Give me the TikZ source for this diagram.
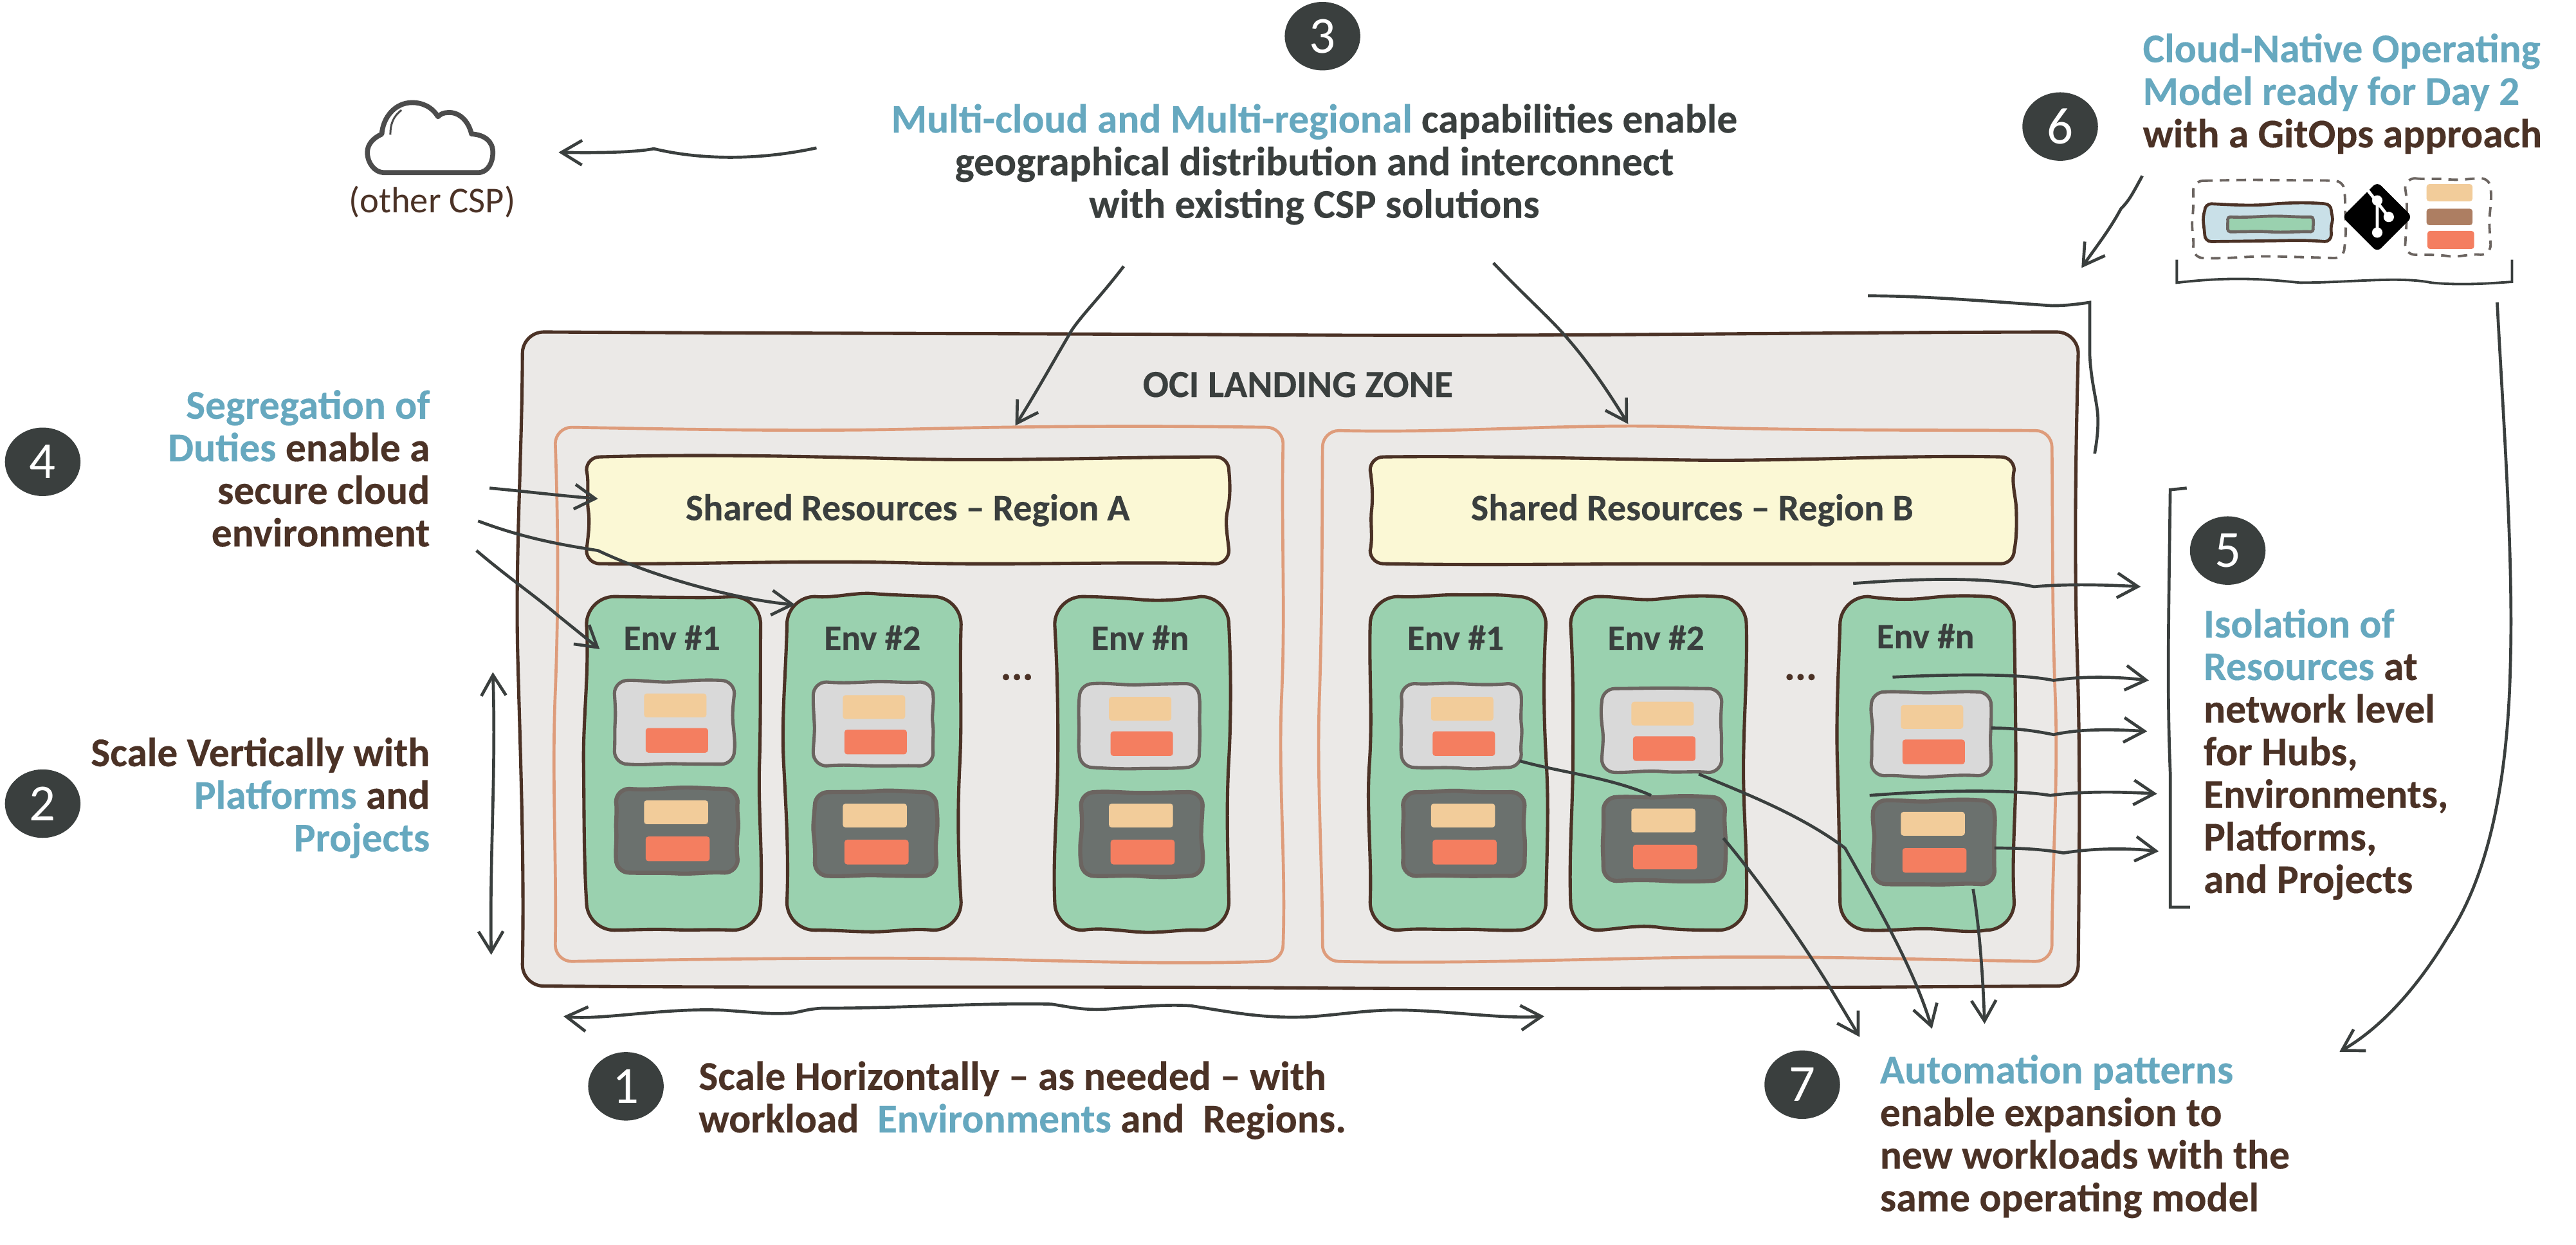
\documentclass[tikz,border=0pt]{standalone}
\usepackage{fontspec}
\setmainfont{Carlito}[BoldFeatures={FakeBold=0.25}]
\usetikzlibrary{arrows.meta,shapes.geometric}
\definecolor{ink}{HTML}{3A3F3E}
\definecolor{brn}{HTML}{4B3226}
\definecolor{tealc}{HTML}{66A8BF}
\definecolor{outerf}{HTML}{EBE9E7}
\definecolor{regc}{HTML}{DE9C7B}
\definecolor{shf}{HTML}{FBF8D5}
\definecolor{grn}{HTML}{9AD1AF}
\definecolor{lgf}{HTML}{D9D9D9}
\definecolor{bxl}{HTML}{6B6460}
\definecolor{dkf}{HTML}{6B716E}
\definecolor{sand}{HTML}{F2CC9A}
\definecolor{salm}{HTML}{F47E60}
\definecolor{tanc}{HTML}{AD7E62}
\definecolor{blf}{HTML}{C9E0E8}
\newcommand\hl[1]{\textcolor{tealc}{#1}}
\newcommand\skr[1]{\pgfmathsetmacro#1{\skW*rand}}
% name, x0, y0, x1, y1, corner radius, wobble, path style, text
\newcommand\skbox[9]{%
  \pgfmathsetmacro\skXa{#2}\pgfmathsetmacro\skYa{#3}\pgfmathsetmacro\skXb{#4}\pgfmathsetmacro\skYb{#5}%
  \def\skR{#6}\def\skW{#7}%
  \pgfmathsetmacro\skXm{(\skXa+\skXb)/2}\pgfmathsetmacro\skYm{(\skYa+\skYb)/2}%
  \pgfmathsetmacro\skDx{(\skXb-\skXa-2*\skR)/6}\pgfmathsetmacro\skDy{(\skYb-\skYa-2*\skR)/6}%
  \pgfmathsetmacro\skK{0.45*\skR}%
  \skr\skA\skr\skB\skr\skC\skr\skD\skr\skE\skr\skF\skr\skG\skr\skH
  \skr\skI\skr\skJ\skr\skL\skr\skM\skr\skN\skr\skO\skr\skP\skr\skQ
  \path[#8] ({\skXa+\skR},\skYa)
   .. controls ({\skXa+\skR+\skDx},{\skYa+\skA}) and ({\skXm-\skDx},{\skYa+\skB-\skC}) .. (\skXm,{\skYa+\skB})
   .. controls ({\skXm+\skDx},{\skYa+\skB+\skC}) and ({\skXb-\skR-\skDx},{\skYa+\skD}) .. ({\skXb-\skR},\skYa)
   .. controls ({\skXb-\skK},\skYa) and (\skXb,{\skYa+\skK}) .. (\skXb,{\skYa+\skR})
   .. controls ({\skXb+\skE},{\skYa+\skR+\skDy}) and ({\skXb+\skF-\skG},{\skYm-\skDy}) .. ({\skXb+\skF},\skYm)
   .. controls ({\skXb+\skF+\skG},{\skYm+\skDy}) and ({\skXb+\skH},{\skYb-\skR-\skDy}) .. (\skXb,{\skYb-\skR})
   .. controls (\skXb,{\skYb-\skK}) and ({\skXb-\skK},\skYb) .. ({\skXb-\skR},\skYb)
   .. controls ({\skXb-\skR-\skDx},{\skYb+\skI}) and ({\skXm+\skDx},{\skYb+\skJ+\skL}) .. (\skXm,{\skYb+\skJ})
   .. controls ({\skXm-\skDx},{\skYb+\skJ-\skL}) and ({\skXa+\skR+\skDx},{\skYb+\skM}) .. ({\skXa+\skR},\skYb)
   .. controls ({\skXa+\skK},\skYb) and (\skXa,{\skYb-\skK}) .. (\skXa,{\skYb-\skR})
   .. controls ({\skXa+\skN},{\skYb-\skR-\skDy}) and ({\skXa+\skO+\skP},{\skYm+\skDy}) .. ({\skXa+\skO},\skYm)
   .. controls ({\skXa+\skO-\skP},{\skYm-\skDy}) and ({\skXa+\skQ},{\skYa+\skR+\skDy}) .. (\skXa,{\skYa+\skR})
   .. controls (\skXa,{\skYa+\skK}) and ({\skXa+\skK},\skYa) .. cycle;
  \pgfmathsetmacro\skNw{(\skXb-\skXa)*0.6}\pgfmathsetmacro\skNh{(\skYb-\skYa)*0.6}%
  \node[inner sep=0pt,minimum width=\skNw pt,minimum height=\skNh pt] (#1) at (\skXm,\skYm) {#9};}
\newcommand\tile[6]{%
  \pgfmathsetmacro\skNw{((#4)-(#2))*0.6}\pgfmathsetmacro\skNh{((#5)-(#3))*0.6}%
  \node[tilebox,fill=#6,minimum width=\skNw pt,minimum height=\skNh pt] (#1) at ({((#2)+(#4))/2},{((#3)+(#5))/2}) {};}
% one platform group: light box at (#2,#3), dark box at (#4,#5)
\newcommand\platforms[5]{%
  \skbox{#1l}{#2}{#3}{#2+73}{#3+51}{8}{0.9}{platl}{}
  \tile{#1ls}{#2+18}{#3+8}{#2+56}{#3+22.5}{sand}
  \tile{#1lr}{#2+19}{#3+29}{#2+57}{#3+44}{salm}
  \skbox{#1d}{#4}{#5}{#4+74}{#5+51}{8}{0.9}{platd}{}
  \tile{#1ds}{#4+17}{#5+7}{#4+56}{#5+21.5}{sand}
  \tile{#1dr}{#4+18}{#5+29}{#4+57}{#5+44}{salm}}
\newcommand\sharedfont{\bfseries\fontsize{13.6}{15}\selectfont\color{ink}}
\tikzset{
  x=0.6pt,y=-0.6pt,
  outerbox/.style={draw=brn,fill=outerf,line width=1.2pt},
  regionbox/.style={draw=regc,line width=1.1pt},
  sharedbox/.style={draw=brn,fill=shf,line width=1.2pt},
  envbox/.style={draw=brn,fill=grn,line width=1.2pt},
  platl/.style={draw=bxl,fill=lgf,line width=1.2pt},
  platd/.style={draw=bxl,fill=dkf,line width=1.5pt},
  tilebox/.style={rounded corners=1pt,inner sep=0pt},
  numdot/.style={ellipse,fill=ink,text=white,minimum width=27.6pt,minimum height=25pt,inner sep=0pt,font=\fontsize{19}{20}\selectfont},
  label/.style={font=\bfseries\fontsize{14.9}{15.55}\selectfont,text=brn,inner sep=0pt},
  envlabel/.style={font=\bfseries\fontsize{13}{15}\selectfont,text=ink,inner sep=0pt},
  arr/.style={draw=ink,line width=1.1pt,-{Straight Barb[length=7.5pt,width=9pt,line width=1.1pt]}},
  darr/.style={draw=ink,line width=1.1pt,{Straight Barb[length=7.5pt,width=9pt,line width=1.1pt]}-{Straight Barb[length=7.5pt,width=9pt,line width=1.1pt]}},
  lin/.style={draw=ink,line width=1.1pt},
  dashbox/.style={draw=bxl,line width=0.9pt,dash pattern=on 3.5pt off 2.6pt},
}
\begin{document}
\begin{tikzpicture}
\pgfmathsetseed{4242}
\useasboundingbox (0,0) rectangle (1568,757.2);
% containers
\skbox{outer}{318}{202}{1265}{600}{13}{3}{outerbox}{}
\skbox{regA}{338}{260}{781}{585}{10}{2.6}{regionbox}{}
\skbox{regB}{805}{262}{1249}{585}{10}{2.6}{regionbox}{}
\skbox{shA}{357}{278}{748}{343}{8}{2}{sharedbox}{\sharedfont Shared Resources – Region A}
\skbox{shB}{834}{278}{1226}{343}{8}{2}{sharedbox}{\sharedfont Shared Resources – Region B}
\node[envlabel,font=\bfseries\fontsize{14}{15}\selectfont] (ozt) at (790,234) {OCI LANDING ZONE};
% environments
\skbox{e1}{357}{363}{463}{566}{17}{2}{envbox}{}
\skbox{e2}{479}{363}{585}{566}{17}{2}{envbox}{}
\skbox{e3}{642}{363}{748}{566}{17}{2}{envbox}{}
\skbox{f1}{834}{363}{941}{566}{17}{2}{envbox}{}
\skbox{f2}{956}{363}{1063}{566}{17}{2}{envbox}{}
\skbox{f3}{1120}{363}{1226}{566}{17}{2}{envbox}{}
\node[envlabel] (e1t) at (409,388) {Env \#1};
\node[envlabel] (e2t) at (531,388) {Env \#2};
\node[envlabel] (e3t) at (694,388) {Env \#n};
\node[envlabel] (f1t) at (886,388) {Env \#1};
\node[envlabel] (f2t) at (1008,388) {Env \#2};
\node[envlabel] (f3t) at (1172,387) {Env \#n};
\platforms{pa}{374}{414}{375}{480}
\platforms{pb}{495}{415}{496}{482}
\platforms{pc}{657}{416}{658}{482}
\platforms{qa}{853}{416}{854}{482}
\platforms{qb}{975}{419}{976}{485}
\platforms{qc}{1139}{421}{1140}{487}
\node[font=\bfseries\fontsize{15}{16}\selectfont,text=brn,inner sep=0pt] (da) at (619,412) {...};
\node[font=\bfseries\fontsize{15}{16}\selectfont,text=brn,inner sep=0pt] (db) at (1096,412) {...};
% number dots
\node[numdot] (n1) at (381,661) {1};
\node[numdot] (n2) at (26,489) {2};
\node[numdot] (n3) at (805,22) {3};
\node[numdot] (n4) at (26,281) {4};
\node[numdot] (n5) at (1356,335) {5};
\node[numdot] (n6) at (1254,77) {6};
\node[numdot] (n7) at (1097,660) {7};
% text blocks
\node[label,text=ink,align=center] (t3) at (800,100) {\hl{Multi-cloud and Multi-regional} capabilities enable\\geographical distribution and interconnect\\with existing CSP solutions};
\node[label,align=right,anchor=east] (t4) at (262,285) {\hl{Segregation of}\\\hl{Duties} enable a\\secure cloud\\environment};
\node[label,align=right,anchor=east] (t2) at (262,485.5) {Scale Vertically with\\\hl{Platforms} and\\\hl{Projects}};
\node[label,align=left,anchor=west] (t1) at (425,669.5) {Scale Horizontally – as needed – with\\workload\ \ \hl{Environments} and\ \ Regions.};
\node[label,align=left,anchor=west] (t5) at (1341,459) {\hl{Isolation of}\\\hl{Resources} at\\network level\\for Hubs,\\Environments,\\Platforms,\\and Projects};
\node[label,align=left,anchor=west] (t6) at (1304,57) {\hl{Cloud-Native Operating}\\\hl{Model ready for Day 2}\\with a GitOps approach};
\node[label,align=left,anchor=west] (t7) at (1144,691.5) {\hl{Automation patterns}\\enable expansion to\\new workloads with the\\same operating model};
\node[font=\fontsize{13.3}{15}\selectfont,text=brn,inner sep=0pt] (csp) at (263,123) {(other CSP)};
% cloud
\draw[draw=black!70,line width=1.8pt,fill=white,line join=round] (233.6,105) -- (291,105) .. controls (297,105) and (300,99) .. (300,92.7) .. controls (300,86) and (295,82) .. (287,81.5) .. controls (285,73) and (279,68) .. (272.7,68.5) .. controls (270,68.5) and (268,69.5) .. (266.6,71) .. controls (263,65) and (257,62.4) .. (251,62.4) .. controls (240,62.4) and (233,72) .. (232.4,81.6) .. controls (227,84) and (223.6,88) .. (223.6,92.7) .. controls (223.6,99) and (228,105) .. (233.6,105) -- cycle;
\draw[draw=black!70,line width=0.7pt] (244.4,67) .. controls (239,71) and (237.6,76) .. (237.6,82);
% GitOps group
\skbox{gd1}{1335}{110}{1427}{157}{6}{1}{dashbox}{}
\skbox{gd2}{1464}{108.5}{1516}{155}{6}{1}{dashbox}{}
\skbox{gb}{1342}{124}{1419}{147}{4}{1.2}{draw=brn,fill=blf,line width=1.1pt}{}
\skbox{gg}{1356}{132}{1408}{141}{1.5}{0.6}{draw=bxl,fill=grn,line width=1.1pt}{}
\tile{g1}{1477}{112}{1505}{122.5}{sand}
\tile{g2}{1477}{127}{1505}{137}{tanc}
\tile{g3}{1477.5}{140.5}{1506}{151.5}{salm}
\node[diamond,fill=black,rounded corners=2pt,minimum width=25.8pt,minimum height=25.8pt,inner sep=0pt] (git) at (1447,132) {};
\draw[white,line width=1.1pt] (1441,115.5) -- (1454,132) (1447,122) -- (1447,141.5);
\fill[white] (1454,132) circle (1.9pt) (1447,122) circle (1.9pt) (1447,141.5) circle (1.9pt);
% connector ends
\coordinate (a1) at (497,90); \coordinate (a2) at (340,92.7);
\draw[arr] (a1) .. controls (460,98) and (425,97) .. (398,90.5) .. controls (385,93) and (360,93) .. (a2);
\coordinate (b1) at (684,162); \coordinate (b2) at (618,259);
\draw[arr] (b1) .. controls (668,183) and (655,195) .. (650,205) .. controls (640,222) and (630,240) .. (b2);
\coordinate (c1) at (909,160); \coordinate (c2) at (991,258);
\draw[arr] (c1) .. controls (930,182) and (945,195) .. (955,207) .. controls (968,222) and (980,240) .. (c2);
\coordinate (d1) at (1304,107); \coordinate (d2) at (1267,163);
\draw[arr] (d1) .. controls (1298,118) and (1296,122) .. (1291,127) .. controls (1284,140) and (1276,150) .. (d2);
\coordinate (e1a) at (1520,184); \coordinate (e2a) at (1424,640);
\draw[arr] (e1a) .. controls (1524,260) and (1530,340) .. (1528,406) .. controls (1526,490) and (1510,540) .. (1490,570) .. controls (1472,600) and (1450,625) .. (e2a);
\coordinate (g0) at (1137,180); \coordinate (g9) at (1275,276);
\draw[lin] (g0) .. controls (1170,180) and (1205,183) .. (1249,186) .. controls (1258,186) and (1265,185) .. (1272,184) -- (1272,216) .. controls (1273,235) and (1277,245) .. (1277,256) .. controls (1277,264) and (1276,270) .. (g9);
\coordinate (h0) at (1325,158); \coordinate (h9) at (1529,158);
\draw[lin,line width=0.9pt] (h0) -- (1325,172) .. controls (1360,168) and (1380,170) .. (1400,172) .. controls (1430,172) and (1460,168) .. (1480,172) .. controls (1500,174) and (1520,172) .. (1529,171.5) -- (h9);
\coordinate (i0) at (1331,297); \coordinate (i9) at (1333,552);
\draw[lin] (i0) -- (1321,298) .. controls (1320,380) and (1319,420) .. (1321,470) -- (1321,552) -- (i9);
\coordinate (r1) at (1128,355); \coordinate (r1b) at (1303,357);
\draw[arr] (r1) .. controls (1180,351) and (1215,352) .. (1238,357) .. controls (1260,355) and (1285,356) .. (r1b);
\coordinate (r2) at (1152,412); \coordinate (r2b) at (1308,414);
\draw[arr] (r2) .. controls (1195,410) and (1230,410) .. (1250,414) .. controls (1270,411) and (1290,412) .. (r2b);
\coordinate (r3) at (1212,443); \coordinate (r3b) at (1307,445);
\draw[arr] (r3) .. controls (1228,443) and (1240,445) .. (1250,447) .. controls (1268,443) and (1290,444) .. (r3b);
\coordinate (r4) at (1138,484); \coordinate (r4b) at (1313,483);
\draw[arr] (r4) .. controls (1190,480) and (1230,481) .. (1248,484) .. controls (1270,481) and (1295,482) .. (r4b);
\coordinate (r5) at (1214,516); \coordinate (r5b) at (1314,518);
\draw[arr] (r5) .. controls (1232,516) and (1245,517) .. (1256,519) .. controls (1275,516) and (1295,516) .. (r5b);
\coordinate (u1) at (1201,541); \coordinate (u1b) at (1208,623);
\draw[arr] (u1) .. controls (1205,565) and (1207,595) .. (u1b);
\coordinate (u2) at (1034,471); \coordinate (u2b) at (1176,626);
\draw[arr] (u2) .. controls (1060,482) and (1095,495) .. (1123,516) .. controls (1145,555) and (1165,590) .. (u2b);
\coordinate (u3) at (1049,510); \coordinate (u3b) at (1132,631);
\draw[arr] (u3) .. controls (1070,535) and (1095,570) .. (1114,601) -- (u3b);
\coordinate (u4) at (925,463); \coordinate (u4b) at (1005,484);
\draw[lin] (u4) .. controls (950,470) and (980,473) .. (u4b);
\coordinate (w1) at (343,618.4); \coordinate (w2) at (940,618.4);
\draw[darr] (w1) .. controls (365,621) and (405,613) .. (440.6,614.7) .. controls (460,616) and (470,617.5) .. (483,616.3) .. controls (490,615) and (492,614) .. (500,613.5) .. controls (550,613.5) and (600,610) .. (640,611) .. controls (650,612.5) and (660,615) .. (674,614) .. controls (695,612.5) and (710,611) .. (725,612) .. controls (750,616) and (770,620) .. (797,618.7) .. controls (820,617) and (835,614) .. (857,614.7) .. controls (885,615.5) and (915,620) .. (w2);
\coordinate (v1) at (300,409); \coordinate (v2) at (299,581);
\draw[darr] (v1) .. controls (302,470) and (298,520) .. (v2);
\coordinate (s1) at (298,297); \coordinate (s1b) at (364,303.5);
\draw[arr] (s1) .. controls (320,299) and (335,301) .. (s1b);
\coordinate (s2) at (291,317); \coordinate (s2b) at (484,368);
\draw[arr] (s2) .. controls (320,328) and (345,332) .. (364,335) .. controls (400,352) and (450,365) .. (s2b);
\coordinate (s3) at (290,335); \coordinate (s3b) at (365,395);
\draw[arr] (s3) .. controls (310,352) and (325,362) .. (339,374) -- (s3b);
\end{tikzpicture}
\end{document}
